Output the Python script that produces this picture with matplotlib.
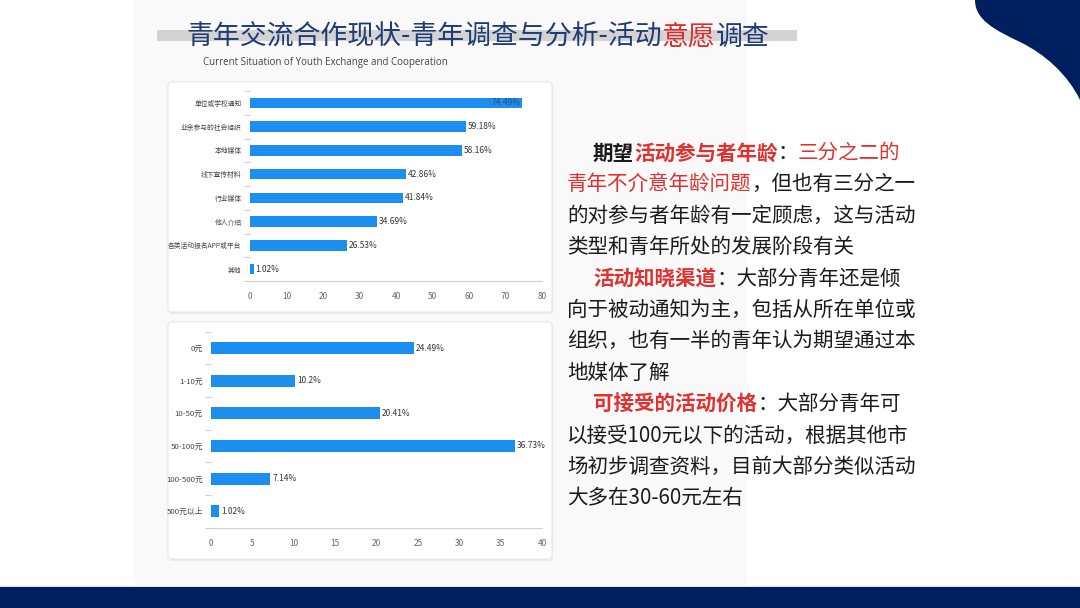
import matplotlib
matplotlib.use("Agg")
import matplotlib.pyplot as plt
from matplotlib.patches import Rectangle, FancyBboxPatch, PathPatch
from matplotlib.path import Path

plt.rcParams['font.family'] = ['Noto Sans CJK SC', 'DejaVu Sans']

# ---------------- data ----------------
channel_labels = ["单位或学校通知", "业余参与的社会组织", "本地媒体", "线下宣传材料",
                  "行业媒体", "他人介绍", "各类活动报名APP或平台", "其他"]
channel_values = [74.49, 59.18, 58.16, 42.86, 41.84, 34.69, 26.53, 1.02]
channel_ticks = [0, 10, 20, 30, 40, 50, 60, 70, 80]

price_labels = ["0元", "1-10元", "10-50元", "50-100元", "100-500元", "500元以上"]
price_values = [24.49, 10.2, 20.41, 36.73, 7.14, 1.02]
price_ticks = [0, 5, 10, 15, 20, 25, 30, 35, 40]

title_parts = [("青年交流合作现状-青年调查与分析-活动", "#1f3b73"), ("意愿", "#e02b2b"), ("调查", "#1f3b73")]
subtitle = "Current Situation of Youth Exchange and Cooperation"

RED = "#e03030"
BLK = "#1a1a1a"
body_lines = [
    [("期望", BLK, "bold"), ("活动参与者年龄", RED, "bold"), ("：", BLK, "normal"), ("三分之二的", RED, "normal")],
    [("青年不介意年龄问题", RED, "normal"), ("，但也有三分之一", BLK, "normal")],
    [("的对参与者年龄有一定顾虑，这与活动", BLK, "normal")],
    [("类型和青年所处的发展阶段有关", BLK, "normal")],
    [("活动知晓渠道", RED, "bold"), ("：大部分青年还是倾", BLK, "normal")],
    [("向于被动通知为主，包括从所在单位或", BLK, "normal")],
    [("组织，也有一半的青年认为期望通过本", BLK, "normal")],
    [("地媒体了解", BLK, "normal")],
    [("可接受的活动价格", RED, "bold"), ("：大部分青年可", BLK, "normal")],
    [("以接受100元以下的活动，根据其他市", BLK, "normal")],
    [("场初步调查资料，目前大部分类似活动", BLK, "normal")],
    [("大多在30-60元左右", BLK, "normal")],
]
indent_lines = [0, 4, 8]

BAR = "#1b8ef0"
W, H = 1080, 608

fig = plt.figure(figsize=(10.8, 6.08), dpi=100)
fig.patch.set_facecolor("white")

# overlay axes in pixel coordinates
ov = fig.add_axes([0, 0, 1, 1], zorder=0)
ov.set_xlim(0, W)
ov.set_ylim(H, 0)
ov.axis("off")

# faint background panel
ov.add_patch(Rectangle((134, 0), 613, 586, facecolor="#f9f9f9", edgecolor="none"))
# cards
for (x0, y0, x1, y1) in [(168, 82, 552, 312), (168, 322, 552, 559)]:
    ov.add_patch(FancyBboxPatch((x0 + 1, y0 + 2), x1 - x0, y1 - y0, boxstyle="round,pad=0,rounding_size=3",
                                facecolor="#ececec", edgecolor="none"))
    ov.add_patch(FancyBboxPatch((x0, y0), x1 - x0, y1 - y0, boxstyle="round,pad=0,rounding_size=3",
                                facecolor="white", edgecolor="#e6e6e6", linewidth=0.8))

# bottom navy band
ov.add_patch(Rectangle((0, 587), W, 21, facecolor="#001f5e", edgecolor="none"))
ov.add_patch(Rectangle((0, 585.5), W, 1.5, facecolor="#d6e6f5", edgecolor="none"))

# top-right navy wave
verts = [(975, 0), (975, 20), (995, 30), (1020, 42), (1045, 54), (1068, 75), (1080, 100),
         (1080, 0), (975, 0)]
codes = [Path.MOVETO, Path.CURVE4, Path.CURVE4, Path.CURVE4, Path.CURVE4, Path.CURVE4, Path.CURVE4,
         Path.LINETO, Path.CLOSEPOLY]
ov.add_patch(PathPatch(Path(verts, codes), facecolor="#001f5e", edgecolor="none"))

# title bar
ov.add_patch(Rectangle((157, 30), 640, 11, facecolor="#d3d3d3", edgecolor="none"))

fig.canvas.draw()
renderer = fig.canvas.get_renderer()


def draw_segments(x, y, segs, size):
    for s, c, wgt in segs:
        t = ov.text(x, y, s, color=c, fontsize=size, fontweight=wgt, ha="left", va="center")
        bb = t.get_window_extent(renderer)
        x += bb.width


draw_segments(186, 37, [(s, c, "normal") for s, c in title_parts], 19.4)
ov.text(203, 63, subtitle, fontsize=7.0, color="#444444", ha="left", va="center",
        family=["Open Sans", "DejaVu Sans"])

line_y0, line_dy = 153, 31.4
for i, segs in enumerate(body_lines):
    x = 593 if i in indent_lines else 567
    draw_segments(x, line_y0 + i * line_dy, segs, 14.8)


# ---------------- charts ----------------
def make_chart(rect_px, labels, values, ticks, xmax, bar_h, label_size, inside_first=False):
    x0, y0, x1, y1 = rect_px
    ax = fig.add_axes([x0 / W, 1 - y1 / H, (x1 - x0) / W, (y1 - y0) / H], zorder=2)
    ax.patch.set_alpha(0)
    n = len(labels)
    pos = list(range(n))
    ax.barh(pos, values, height=bar_h, color=BAR, edgecolor="none")
    ax.set_xlim(0, xmax)
    ax.set_ylim(n - 0.5, -0.5)
    ax.set_xticks(ticks)
    ax.set_xticklabels([str(t) for t in ticks])
    ax.set_yticks(pos)
    ax.set_yticklabels(labels)
    ax.set_yticks([p - 0.5 for p in range(n + 1)], minor=True)
    ax.tick_params(axis="y", which="major", length=0, pad=6, labelsize=label_size, labelcolor="#444444")
    ax.tick_params(axis="y", which="minor", length=4, color="#cccccc", width=0.8)
    ax.tick_params(axis="x", which="major", length=0, pad=8, labelsize=6, labelcolor="#666666")
    for sp in ["top", "right", "left"]:
        ax.spines[sp].set_visible(False)
    ax.spines["bottom"].set_color("#d0d0d0")
    ax.spines["bottom"].set_linewidth(0.8)
    for i, v in enumerate(values):
        lbl = f"{v:g}%"
        if inside_first and i == 0:
            ax.text(v - 0.3, i, lbl, ha="right", va="center", fontsize=6, color="#2a4a7a")
        else:
            ax.text(v + xmax * 0.006, i, lbl, ha="left", va="center", fontsize=6, color="#333333")
    return ax


make_chart((250, 91, 542, 281), channel_labels, channel_values, channel_ticks, 80, 0.44, 4.9, inside_first=True)
make_chart((211, 331.7, 542, 527.5), price_labels, price_values, price_ticks, 40, 0.37, 5.6)

fig.savefig("out.png", dpi=100, facecolor="white")
